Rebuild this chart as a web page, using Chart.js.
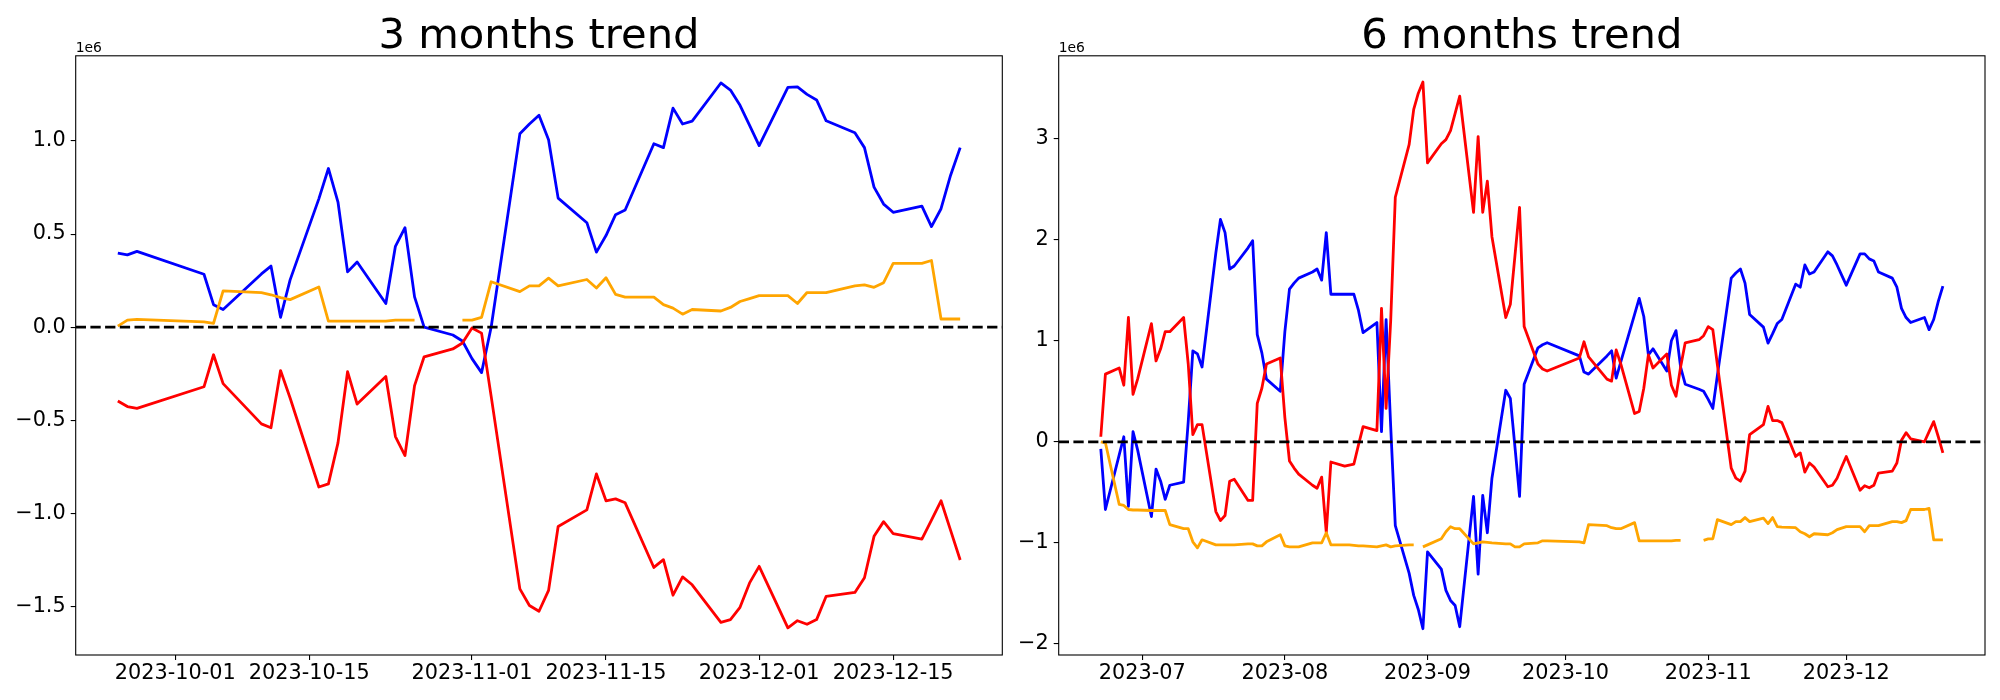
<!DOCTYPE html>
<html><head><meta charset="utf-8">
<script src="https://cdn.jsdelivr.net/npm/chart.js@4.4.0/dist/chart.umd.min.js"></script>
<style>
html,body{margin:0;padding:0;background:#fff;}
#wrap{position:relative;width:2000px;height:700px;overflow:hidden;background:#fff;}
canvas{position:absolute;top:0;}
</style></head><body>
<div id="wrap">
<canvas id="c1" width="1010" height="700" style="left:0px;width:1010px;height:700px"></canvas>
<canvas id="c2" width="990" height="700" style="left:1010px;width:990px;height:700px"></canvas>
</div>
<script>
const YEAR = 2023;

// trading dates of the 6-month window (MM-DD)
const dates6m = [
  '06-22','06-23','06-26','06-27','06-28','06-29','06-30',
  '07-03','07-04','07-05','07-06','07-07','07-10','07-11','07-12','07-13','07-14','07-17','07-18','07-19','07-20','07-21','07-24','07-25','07-26','07-27','07-28','07-31',
  '08-01','08-02','08-03','08-04','08-07','08-08','08-09','08-10','08-11','08-14','08-15','08-16','08-17','08-18','08-21','08-22','08-23','08-24','08-25','08-28','08-29','08-30','08-31',
  '09-01','09-04','09-05','09-06','09-07','09-08','09-11','09-12','09-13','09-14','09-15','09-18','09-19','09-20','09-21','09-22','09-25','09-26','09-27',
  '10-04','10-05','10-06','10-10','10-11','10-12','10-13','10-16','10-17','10-18','10-19','10-20','10-23','10-24','10-25','10-26','10-27','10-30','10-31',
  '11-01','11-02','11-03','11-06','11-07','11-08','11-09','11-10','11-13','11-14','11-15','11-16','11-17','11-20','11-21','11-22','11-23','11-24','11-27','11-28','11-29','11-30',
  '12-01','12-04','12-05','12-06','12-07','12-08','12-11','12-12','12-13','12-14','12-15','12-18','12-19','12-20','12-21','12-22'
];
// the 3-month window starts on 09-25
const dates3m = dates6m.slice(dates6m.indexOf('09-25'));

// 3 months trend (units of 1e6)
const blue3m = [
  0.398, 0.388, 0.407,
  0.284, 0.121, 0.095, 0.286, 0.328, 0.053, 0.254, 0.689, 0.852, 0.672, 0.297, 0.350, 0.127, 0.434, 0.534, 0.163, 0.0, -0.042, -0.074,
  -0.169, -0.244, 0.0, 1.038, 1.091, 1.138, 1.006, 0.693, 0.561, 0.403, 0.492, 0.604, 0.629, 0.985, 0.964, 1.176, 1.091, 1.106, 1.311, 1.273, 1.191, 1.083,
  0.975, 1.288, 1.290, 1.250, 1.220, 1.108, 1.044, 0.964, 0.752, 0.661, 0.617, 0.650, 0.540, 0.636, 0.816, 0.964
];
const red3m = [
  -0.396, -0.426, -0.436,
  -0.320, -0.148, -0.303, -0.519, -0.540, -0.233, -0.38, -0.858, -0.841, -0.621, -0.239, -0.413, -0.265, -0.587, -0.689, -0.314, -0.159, -0.117, -0.085,
  -0.004, -0.032, -0.37, -1.405, -1.494, -1.525, -1.413, -1.07, -0.981, -0.788, -0.932, -0.922, -0.943, -1.290, -1.248, -1.439, -1.341, -1.383, -1.585, -1.570, -1.504, -1.373,
  -1.284, -1.614, -1.576, -1.595, -1.570, -1.445, -1.424, -1.345, -1.123, -1.044, -1.108, -1.138, -1.036, -0.932, -1.091, -1.25
];
const orange3m = [
  0.006, 0.038, 0.042,
  0.028, 0.021, 0.195, 0.186, 0.174, 0.159, 0.148, 0.216, 0.032, 0.032, 0.032, 0.032, 0.032, 0.038, 0.038, 0.038, null, null, 0.038,
  0.038, 0.053, 0.244, 0.191, 0.222, 0.222, 0.263, 0.222, 0.256, 0.210, 0.265, 0.176, 0.161, 0.161, 0.121, 0.102, 0.070, 0.095, 0.087, 0.106, 0.138, 0.153,
  0.169, 0.169, 0.127, 0.186, 0.186, 0.186, 0.222, 0.227, 0.214, 0.239, 0.343, 0.343, 0.358, 0.044, 0.044, 0.044
];

// 6 months trend (units of 1e6)
const blue6m = [
  -0.07, -0.67, -0.13, 0.05, -0.64, 0.10, -0.08,
  -0.74, -0.27, -0.39, -0.57, -0.43, -0.40, 0.2, 0.90, 0.87, 0.74, 1.87, 2.20, 2.07, 1.71, 1.74, 1.92, 1.99, 1.06, 0.88, 0.62, 0.50,
  1.09, 1.51, 1.57, 1.62, 1.68, 1.71, 1.60, 2.07, 1.46, 1.46, 1.46, 1.46, 1.30, 1.08, 1.18, 0.10, 1.21, 0.15, -0.83, -1.30, -1.52, -1.66, -1.85,
  -1.09, -1.26, -1.47, -1.57, -1.62, -1.83, -0.54, -1.31, -0.53, -0.90, -0.36, 0.51, 0.43, -0.05, -0.54, 0.57, 0.93, 0.96, 0.98,
  0.85, 0.69, 0.67, 0.85, 0.90, 0.63, 0.79, 1.26, 1.42, 1.24, 0.86, 0.92, 0.70, 1.00, 1.10, 0.74, 0.57, 0.52, 0.50,
  0.42, 0.33, 0.66, 1.62, 1.67, 1.71, 1.57, 1.26, 1.135, 0.976, 1.07, 1.17, 1.21, 1.56, 1.53, 1.75, 1.66, 1.68, 1.88, 1.84, 1.75, 1.65,
  1.55, 1.86, 1.86, 1.81, 1.79, 1.68, 1.62, 1.53, 1.32, 1.23, 1.18, 1.23, 1.11, 1.21, 1.39, 1.54
];
const red6m = [
  0.05, 0.67, 0.73, 0.56, 1.23, 0.47, 0.62,
  1.17, 0.80, 0.92, 1.09, 1.09, 1.23, 0.77, 0.07, 0.17, 0.17, -0.69, -0.78, -0.73, -0.39, -0.37, -0.58, -0.58, 0.38, 0.53, 0.77, 0.83,
  0.24, -0.19, -0.26, -0.32, -0.43, -0.46, -0.35, -0.90, -0.20, -0.24, -0.23, -0.22, -0.03, 0.15, 0.11, 1.32, 0.33, 1.2, 2.42, 2.94, 3.29, 3.45, 3.56,
  2.76, 2.95, 2.99, 3.08, 3.25, 3.42, 2.27, 3.02, 2.27, 2.58, 2.03, 1.23, 1.36, 1.84, 2.32, 1.14, 0.77, 0.72, 0.70,
  0.83, 0.99, 0.84, 0.62, 0.60, 0.91, 0.77, 0.28, 0.30, 0.53, 0.86, 0.73, 0.87, 0.56, 0.45, 0.74, 0.98, 1.01, 1.05,
  1.14, 1.11, 0.76, -0.26, -0.36, -0.39, -0.29, 0.07, 0.17, 0.35, 0.21, 0.21, 0.19, -0.145, -0.11, -0.30, -0.21, -0.25, -0.445, -0.43, -0.36, -0.25,
  -0.145, -0.48, -0.435, -0.455, -0.43, -0.31, -0.29, -0.21, 0.015, 0.09, 0.03, 0.0, 0.10, 0.20, 0.05, -0.11
];
const orange6m = [
  0.0, -0.01, -0.62, -0.63, -0.67, -0.675, -0.675,
  -0.68, -0.68, -0.68, -0.68, -0.82, -0.86, -0.86, -0.99, -1.05, -0.97, -1.02, -1.02, -1.02, -1.02, -1.02, -1.01, -1.01, -1.03, -1.03, -0.99, -0.92,
  -1.03, -1.04, -1.04, -1.04, -1.00, -1.00, -1.00, -0.90, -1.02, -1.02, -1.02, -1.025, -1.03, -1.03, -1.04, -1.03, -1.02, -1.04, -1.03, -1.02, -1.02, null, -1.04,
  -1.02, -0.96, -0.89, -0.84, -0.86, -0.86, -1.01, -1.00, -0.99, -0.995, -1.00, -1.01, -1.01, -1.04, -1.04, -1.01, -1.00, -0.98, -0.98,
  -0.99, -1.00, -0.82, -0.83, -0.85, -0.86, -0.86, -0.80, -0.98, -0.98, -0.98, -0.98, -0.98, -0.98, -0.975, -0.975, null, null, -0.975,
  -0.96, -0.96, -0.77, -0.82, -0.79, -0.79, -0.75, -0.79, -0.755, -0.81, -0.75, -0.84, -0.845, -0.85, -0.89, -0.91, -0.94, -0.91, -0.92, -0.90, -0.87, -0.855,
  -0.84, -0.84, -0.89, -0.83, -0.83, -0.83, -0.79, -0.79, -0.80, -0.78, -0.67, -0.67, -0.66, -0.97, -0.97, -0.97
];

// tick labels
const xTicks3m = ['2023-10-01','2023-10-15','2023-11-01','2023-11-15','2023-12-01','2023-12-15'];
const xTicks6m = ['2023-07','2023-08','2023-09','2023-10','2023-11','2023-12'];
const yTicks3m = [-1.5, -1.0, -0.5, 0, 0.5, 1.0];
const yTicks6m = [-2, -1, 0, 1, 2, 3];
const titles = ['3 months trend', '6 months trend'];
const offsetLabel = '1e6';

function dayNum(s) {
  const p = s.split('-').map(Number);
  return Date.UTC(p[0], p[1] - 1, p.length > 2 ? p[2] : 1) / 86400000;
}
const MINUS = '\u2212';
const FONT = "'DejaVu Sans', 'Liberation Sans', sans-serif";

const framePlugin = {
  id: 'frame',
  afterDatasetsDraw(chart, args, opts) {
    const ctx = chart.ctx, a = chart.chartArea, y = chart.scales.y;
    const y0 = y.getPixelForValue(0);
    ctx.save();
    ctx.beginPath();
    ctx.rect(a.left, a.top, a.right - a.left, a.bottom - a.top);
    ctx.clip();
    ctx.strokeStyle = '#000';
    ctx.lineWidth = 2.8;
    ctx.setLineDash([10.3, 4.4]);
    ctx.beginPath();
    ctx.moveTo(a.left, y0);
    ctx.lineTo(a.right, y0);
    ctx.stroke();
    ctx.restore();
  },
  afterDraw(chart, args, opts) {
    const ctx = chart.ctx, a = chart.chartArea;
    ctx.save();
    ctx.strokeStyle = '#000';
    ctx.lineWidth = 1.1;
    ctx.setLineDash([]);
    ctx.strokeRect(a.left, a.top, a.right - a.left, a.bottom - a.top);
    ctx.fillStyle = '#000';
    ctx.textBaseline = 'alphabetic';
    ctx.textAlign = 'center';
    ctx.font = '41.7px ' + FONT;
    ctx.fillText(opts.title, (a.left + a.right) / 2, a.top - 8.3);
    ctx.textAlign = 'left';
    ctx.font = '13.9px ' + FONT;
    ctx.fillText(offsetLabel, a.left, a.top - 4);
    ctx.restore();
  }
};

function makeChart(id, cfg) {
  const xs = cfg.dates.map(s => dayNum(YEAR + '-' + s));
  const mk = (vals, color, order) => ({
    data: vals.map((v, i) => ({ x: xs[i], y: v })),
    borderColor: color, backgroundColor: color, borderWidth: 2.8,
    pointRadius: 0, pointHoverRadius: 0, tension: 0, spanGaps: false, fill: false,
    order: order, borderJoinStyle: 'round', borderCapStyle: 'butt'
  });
  const axisFont = { family: FONT, size: 20.8 };
  return new Chart(document.getElementById(id), {
    type: 'line',
    data: { datasets: [mk(cfg.blue, '#0000ff', 3), mk(cfg.red, '#ff0000', 2), mk(cfg.orange, '#ffa500', 1)] },
    options: {
      responsive: false, animation: false, devicePixelRatio: 1,
      events: [],
      layout: { autoPadding: false, padding: { left: 0, right: cfg.padR, top: 55.8, bottom: 0 } },
      plugins: { legend: { display: false }, tooltip: { enabled: false }, title: { display: false }, frame: { title: cfg.title } },
      scales: {
        x: {
          type: 'linear', min: cfg.xmin, max: cfg.xmax,
          afterFit: s => { s.height = 45; },
          afterBuildTicks: s => { s.ticks = cfg.xticks.map(t => ({ value: dayNum(t) })); },
          ticks: { autoSkip: false, maxRotation: 0, minRotation: 0, color: '#000', font: axisFont, padding: 1,
                   callback: (v, i) => cfg.xticks[i] },
          grid: { display: true, drawOnChartArea: false, drawTicks: true, tickLength: 5, color: '#000', lineWidth: 1.1 },
          border: { display: false }
        },
        y: {
          type: 'linear', min: cfg.ymin, max: cfg.ymax,
          afterFit: s => { s.width = cfg.left; },
          afterBuildTicks: s => { s.ticks = cfg.yticks.map(v => ({ value: v })); },
          ticks: { autoSkip: false, color: '#000', font: axisFont, padding: 5,
                   callback: (v, i) => cfg.yfmt(cfg.yticks[i]) },
          grid: { display: true, drawOnChartArea: false, drawTicks: true, tickLength: 5, color: '#000', lineWidth: 1.1 },
          border: { display: false }
        }
      }
    },
    plugins: [framePlugin]
  });
}

const fmt1 = v => (v < 0 ? MINUS : '') + Math.abs(v).toFixed(1);
const fmt0 = v => (v < 0 ? MINUS : '') + Math.abs(v).toFixed(0);

makeChart('c1', {
  dates: dates3m, blue: blue3m, red: red3m, orange: orange3m, title: titles[0],
  xticks: xTicks3m, yticks: yTicks3m, yfmt: fmt1,
  xmin: dayNum('2023-09-25') - 4.4, xmax: dayNum('2023-12-22') + 4.4,
  ymin: -1.760, ymax: 1.457, left: 75.7, padR: 7.7
});
makeChart('c2', {
  dates: dates6m, blue: blue6m, red: red6m, orange: orange6m, title: titles[1],
  xticks: xTicks6m, yticks: yTicks6m, yfmt: fmt0,
  xmin: dayNum('2023-06-22') - 9.15, xmax: dayNum('2023-12-22') + 9.15,
  ymin: -2.11, ymax: 3.82, left: 48.7, padR: 15
});
</script>
</body></html>
